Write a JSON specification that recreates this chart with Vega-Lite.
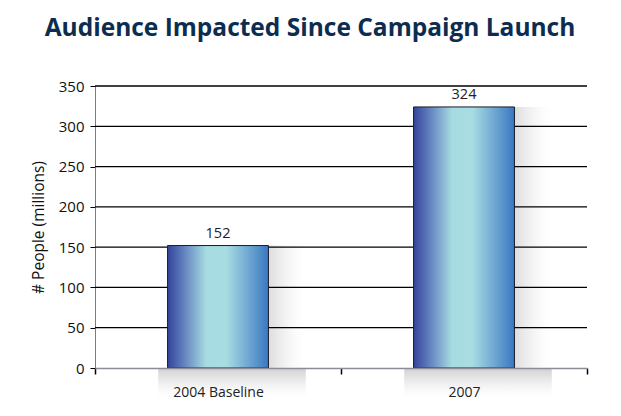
{
  "$schema": "https://vega.github.io/schema/vega-lite/v6.json",
  "width": 492,
  "height": 282,
  "autosize": "none",
  "padding": {"left": 95, "top": 86, "right": 34, "bottom": 48},
  "background": "white",
  "title": {
    "text": "Audience Impacted Since Campaign Launch",
    "font": "Open Sans",
    "fontSize": 24.5,
    "fontWeight": "bold",
    "color": "#0d2d50",
    "anchor": "middle",
    "frame": "group",
    "dx": -31,
    "offset": 38
  },
  "config": {
    "view": {"stroke": null},
    "font": "Open Sans"
  },
  "datasets": {
    "bars": [
      {"period": "2004 Baseline", "people": 152},
      {"period": "2007", "people": 324}
    ],
    "grid": [
      {"v": 50}, {"v": 100}, {"v": 150}, {"v": 200}, {"v": 250}, {"v": 300}, {"v": 350}
    ]
  },
  "data": {"name": "bars"},
  "encoding": {
    "x": {
      "field": "period",
      "type": "nominal",
      "sort": null,
      "scale": {"paddingInner": 0, "paddingOuter": 0},
      "axis": {
        "title": null,
        "labelAngle": 0,
        "labelFontSize": 14,
        "labelColor": "#222222",
        "labelPadding": 11,
        "tickBand": "extent",
        "tickColor": "black",
        "tickWidth": 1.5,
        "tickSize": 6,
        "domainColor": "#8c8c96",
        "domainWidth": 1.5,
        "zindex": 1
      }
    }
  },
  "layer": [
    {
      "mark": {
        "type": "bar",
        "width": {"band": 0.6},
        "xOffset": 14,
        "clip": false,
        "fill": {
          "gradient": "linear",
          "x1": 0, "x2": 0, "y1": 0, "y2": 1,
          "stops": [
            {"offset": 0, "color": "rgba(120,120,120,0.35)"},
            {"offset": 0.5, "color": "rgba(170,170,170,0.18)"},
            {"offset": 1, "color": "rgba(255,255,255,0)"}
          ]
        }
      },
      "encoding": {
        "y": {"datum": 0},
        "y2": {"datum": -40}
      }
    },
    {
      "mark": {
        "type": "bar",
        "width": {"band": 0.52},
        "xOffset": 27,
        "clip": false,
        "fill": {
          "gradient": "linear",
          "x1": 0, "x2": 1, "y1": 0, "y2": 0,
          "stops": [
            {"offset": 0, "color": "rgba(80,80,80,0.55)"},
            {"offset": 0.55, "color": "rgba(110,110,110,0.45)"},
            {"offset": 0.8, "color": "rgba(180,180,180,0.2)"},
            {"offset": 1, "color": "rgba(255,255,255,0)"}
          ]
        }
      },
      "encoding": {
        "y": {"field": "people", "type": "quantitative"},
        "y2": {"datum": 0}
      }
    },
    {
      "data": {"name": "grid"},
      "mark": {"type": "rule", "color": "black", "strokeWidth": 1.3},
      "encoding": {
        "x": null,
        "y": {"field": "v", "type": "quantitative"}
      }
    },
    {
      "mark": {
        "type": "bar",
        "width": {"band": 0.41},
        "stroke": "#1a1a2a",
        "strokeWidth": 1,
        "fill": {
          "gradient": "linear",
          "x1": 0, "x2": 1, "y1": 0, "y2": 0,
          "stops": [
            {"offset": 0, "color": "#34449a"},
            {"offset": 0.15, "color": "#5f7dbd"},
            {"offset": 0.38, "color": "#a6dbe1"},
            {"offset": 0.58, "color": "#a9dde2"},
            {"offset": 0.82, "color": "#6aa3d0"},
            {"offset": 1, "color": "#3978c0"}
          ]
        }
      },
      "encoding": {
        "y": {
          "field": "people",
          "type": "quantitative",
          "scale": {"domain": [0, 350]},
          "axis": {
            "title": "# People (millions)",
            "titleFontSize": 15.5,
            "titleFontWeight": "normal",
            "titleColor": "#111111",
            "titlePadding": 12,
            "values": [0, 50, 100, 150, 200, 250, 300, 350],
            "grid": false,
            "labelFontSize": 15,
            "labelColor": "#111111",
            "labelPadding": 6,
            "tickColor": "black",
            "tickSize": 5,
            "domainColor": "#7a7a8c",
            "domainWidth": 1
          }
        }
      }
    },
    {
      "mark": {"type": "text", "dy": -12, "fontSize": 14.5, "color": "#222222"},
      "encoding": {
        "y": {"field": "people", "type": "quantitative"},
        "text": {"field": "people", "type": "quantitative"}
      }
    }
  ]
}
